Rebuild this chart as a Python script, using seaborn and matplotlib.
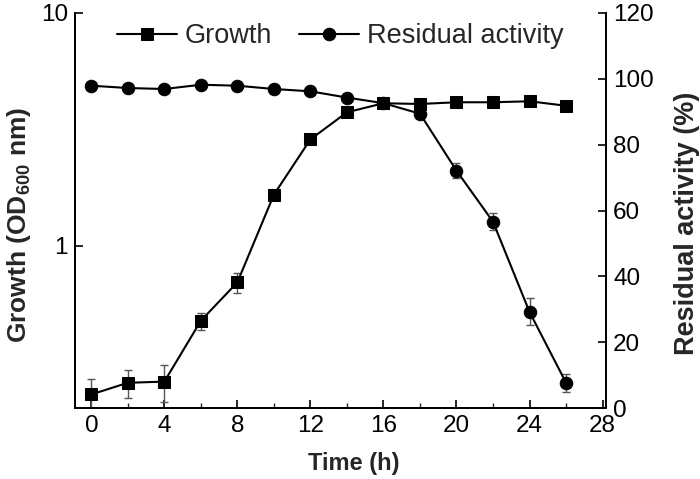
import matplotlib
matplotlib.use("Agg")
import matplotlib.pyplot as plt
import seaborn as sns
import numpy as np
import pandas as pd
from matplotlib.ticker import FixedLocator, NullLocator, MultipleLocator

sns.set_theme(style="ticks")
plt.rcParams['font.family'] = ['Liberation Sans', 'DejaVu Sans']
plt.rcParams['mathtext.fontset'] = 'custom'
plt.rcParams['mathtext.rm'] = 'Liberation Sans'
plt.rcParams['mathtext.bf'] = 'Liberation Sans:bold'

time_h = [0, 2, 4, 6, 8, 10, 12, 14, 16, 18, 20, 22, 24, 26]
growth = [0.229, 0.257, 0.260, 0.475, 0.695, 1.655, 2.86, 3.74, 4.09, 4.06, 4.13, 4.13, 4.17, 3.99]
growth_err = [0.038, 0.035, 0.047, 0.040, 0.070, 0.05, 0.0, 0.0, 0.0, 0.0, 0.0, 0.0, 0.0, 0.0]
activity = [97.9, 97.2, 96.9, 98.2, 97.9, 96.9, 96.2, 94.3, 92.6, 89.4, 72.1, 56.6, 29.2, 7.7]
activity_err = [0, 0, 0, 0, 0, 0, 0, 0, 0, 0, 2.3, 2.5, 4.1, 2.8]

df = pd.DataFrame({"Time": time_h, "Growth": growth, "Activity": activity})

fig = plt.figure(figsize=(7.0, 4.79), dpi=100)
ax = fig.add_axes([0.107, 0.148, 0.759, 0.825])
ax2 = ax.twinx()

# error bars
ax.errorbar(time_h, growth, yerr=growth_err, fmt='none', ecolor='#555555',
            elinewidth=1.0, capsize=3, capthick=1.0, zorder=2)
ax2.errorbar(time_h, activity, yerr=activity_err, fmt='none', ecolor='#555555',
             elinewidth=1.0, capsize=3, capthick=1.0, zorder=2)

sns.lineplot(data=df, x="Time", y="Activity", ax=ax2, color='black', marker='o',
             markersize=9, markeredgecolor='black', linewidth=1.5, label='Residual activity',
             legend=False, zorder=3)
sns.lineplot(data=df, x="Time", y="Growth", ax=ax, color='black', marker='s',
             markersize=8, markeredgecolor='black', linewidth=1.5, label='Growth',
             legend=False, zorder=3)

ax.set_zorder(ax2.get_zorder() + 1)
ax.patch.set_visible(False)

ax.set_yscale('log')
ax.set_ylim(0.2, 10)
ax.yaxis.set_major_locator(FixedLocator([1, 10]))
ax.yaxis.set_minor_locator(NullLocator())
ax.set_yticklabels(['1', '10'])
ax.set_xlim(-0.9, 28.2)
ax.xaxis.set_major_locator(MultipleLocator(4))
ax.xaxis.set_minor_locator(MultipleLocator(2))

ax2.set_ylim(0, 120)
ax2.yaxis.set_major_locator(MultipleLocator(20))

for a in (ax, ax2):
    a.tick_params(axis='both', which='major', direction='in', length=6, width=1.2,
                  labelsize=17.5, colors='black', pad=5)
    a.tick_params(axis='both', which='minor', direction='in', length=3.5, width=1.0)
    for s in a.spines.values():
        s.set_linewidth(1.3)
        s.set_color('black')
    a.spines['top'].set_visible(False)

ax.set_xlabel('Time (h)', fontsize=17, fontweight='bold')
ax.xaxis.set_label_coords(0.524, -0.112)
ax.set_ylabel(r'Growth (OD$_{\mathbf{600}}$ nm)', fontsize=19, fontweight='bold')
ax.yaxis.set_label_coords(-0.078, 0.463)
ax2.set_ylabel('Residual activity (%)', fontsize=19.5, fontweight='bold')
ax2.yaxis.set_label_coords(1.128, 0.468)
ax2.set_xlabel('')

h1, l1 = ax.get_legend_handles_labels()
h2, l2 = ax2.get_legend_handles_labels()
ax.legend(h1 + h2, l1 + l2, loc='upper center', bbox_to_anchor=(0.5, 1.015), ncol=2,
          frameon=False, fontsize=19.5, handlelength=2.2, columnspacing=1.0,
          handletextpad=0.3, borderaxespad=0.2)

fig.savefig('out.png', dpi=100)
